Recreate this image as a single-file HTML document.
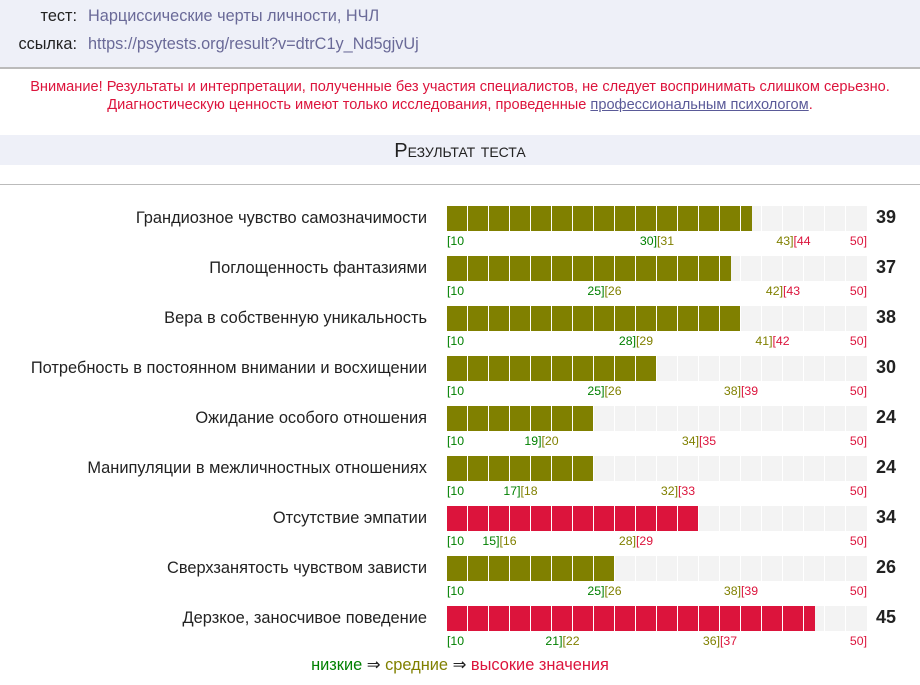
<!DOCTYPE html>
<html><head><meta charset="utf-8">
<style>
body{margin:0;width:920px;height:685px;overflow:hidden;background:#fff;font-family:"Liberation Sans",sans-serif;position:relative}
.hdr{position:absolute;left:0;top:0;width:920px;height:67px;background:#eef0f8;border-bottom:2px solid #bbb}
.k{position:absolute;right:843px;font-size:16.3px;color:#222}
.v{position:absolute;left:88px;font-size:16.3px;color:#6a6a98}
.warn{position:absolute;left:0;width:920px;top:78px;text-align:center;font-size:14.6px;line-height:18px;color:#dc143c}
.warn a{color:#5a5a98;text-decoration:underline}
.band{position:absolute;left:0;top:135px;width:920px;height:30px;background:#eef0f8;text-align:center;line-height:32px;font-size:20px;color:#222;font-variant:small-caps}
.line{position:absolute;left:0;top:184px;width:920px;height:1px;background:#bbb}
.lab{position:absolute;right:493px;font-size:16.4px;color:#222;white-space:nowrap}
.num{position:absolute;left:876px;font-size:18px;font-weight:bold;color:#222}
.t{position:absolute;font-size:12.3px;white-space:nowrap}
.legend{position:absolute;left:0;width:920px;top:655px;text-align:center;font-size:16.4px;color:#222}
</style></head><body>
<div class="hdr">
<div class="k" style="top:7px">тест:</div>
<div class="v" style="top:7px">Нарциссические черты личности, НЧЛ</div>
<div class="k" style="top:35px">ссылка:</div>
<div class="v" style="top:35px">https://psytests.org/result?v=dtrC1y_Nd5gjvUj</div>
</div>
<div class="warn">Внимание! Результаты и интерпретации, полученные без участия специалистов, не следует воспринимать слишком серьезно.<br>Диагностическую ценность имеют только исследования, проведенные <a>профессиональным психологом</a>.</div>
<div class="band">Результат теста</div>
<div class="line"></div>
<div id="chart"></div>
<div class="legend"><span style="color:#008000">низкие</span> ⇒ <span style="color:#808000">средние</span> ⇒ <span style="color:#dc143c">высокие значения</span></div>
<script>
const categories=["Грандиозное чувство самозначимости","Поглощенность фантазиями","Вера в собственную уникальность","Потребность в постоянном внимании и восхищении","Ожидание особого отношения","Манипуляции в межличностных отношениях","Отсутствие эмпатии","Сверхзанятость чувством зависти","Дерзкое, заносчивое поведение"];
const values=[39,37,38,30,24,24,34,26,45];
const lowMax=[30,25,28,25,19,17,15,25,21];
const midMax=[43,42,41,38,34,32,28,38,36];
const scaleMin=10, scaleMax=50;
const X0=447, W=420, TOP=206, STEP=50;
const x=v=>X0+(v-scaleMin)/(scaleMax-scaleMin)*W;
const C={low:"#008000",mid:"#808000",high:"#dc143c"};
const root=document.getElementById('chart');
function mk(cls,style,html){const d=document.createElement('div');if(cls)d.className=cls;d.style.cssText=style;d.innerHTML=html||'';root.appendChild(d);return d;}
categories.forEach((c,i)=>{
 const y=TOP+i*STEP, v=values[i];
 const l=mk('lab','top:'+(y+3)+'px',c);
 
 
 const tr=mk('','position:absolute;left:'+X0+'px;top:'+y+'px;width:'+W+'px;height:25px;background:#f3f3f3');
 
 
 const col=v>midMax[i]?C.high:(v>lowMax[i]?C.mid:C.low);
 const b=mk('','position:absolute;left:'+X0+'px;top:'+y+'px;width:'+(x(v)-X0)+'px;height:25px;background:'+col);
 
 
 for(let s=1;s<20;s++){const g=mk('','position:absolute;left:'+Math.round(X0+s*W/20-1)+'px;top:'+y+'px;width:1px;height:25px;background:#fff');
  
  }
 const n=mk('num','top:'+(y+1)+'px',String(v));
 
 
 const ty=y+28;
 const ticks=[
  ['left:'+X0+'px',C.low,'['+scaleMin],
  ['right:'+(920-x(lowMax[i]))+'px',C.low,lowMax[i]+']'],
  ['left:'+x(lowMax[i])+'px',C.mid,'['+(lowMax[i]+1)],
  ['right:'+(920-x(midMax[i]))+'px',C.mid,midMax[i]+']'],
  ['left:'+x(midMax[i])+'px',C.high,'['+(midMax[i]+1)],
  ['right:'+(920-x(scaleMax))+'px',C.high,scaleMax+']']];
 ticks.forEach(t=>{const e=mk('t',t[0]+';top:'+ty+'px;color:'+t[1],t[2]);
  
  });
});
</script>
</body></html>
